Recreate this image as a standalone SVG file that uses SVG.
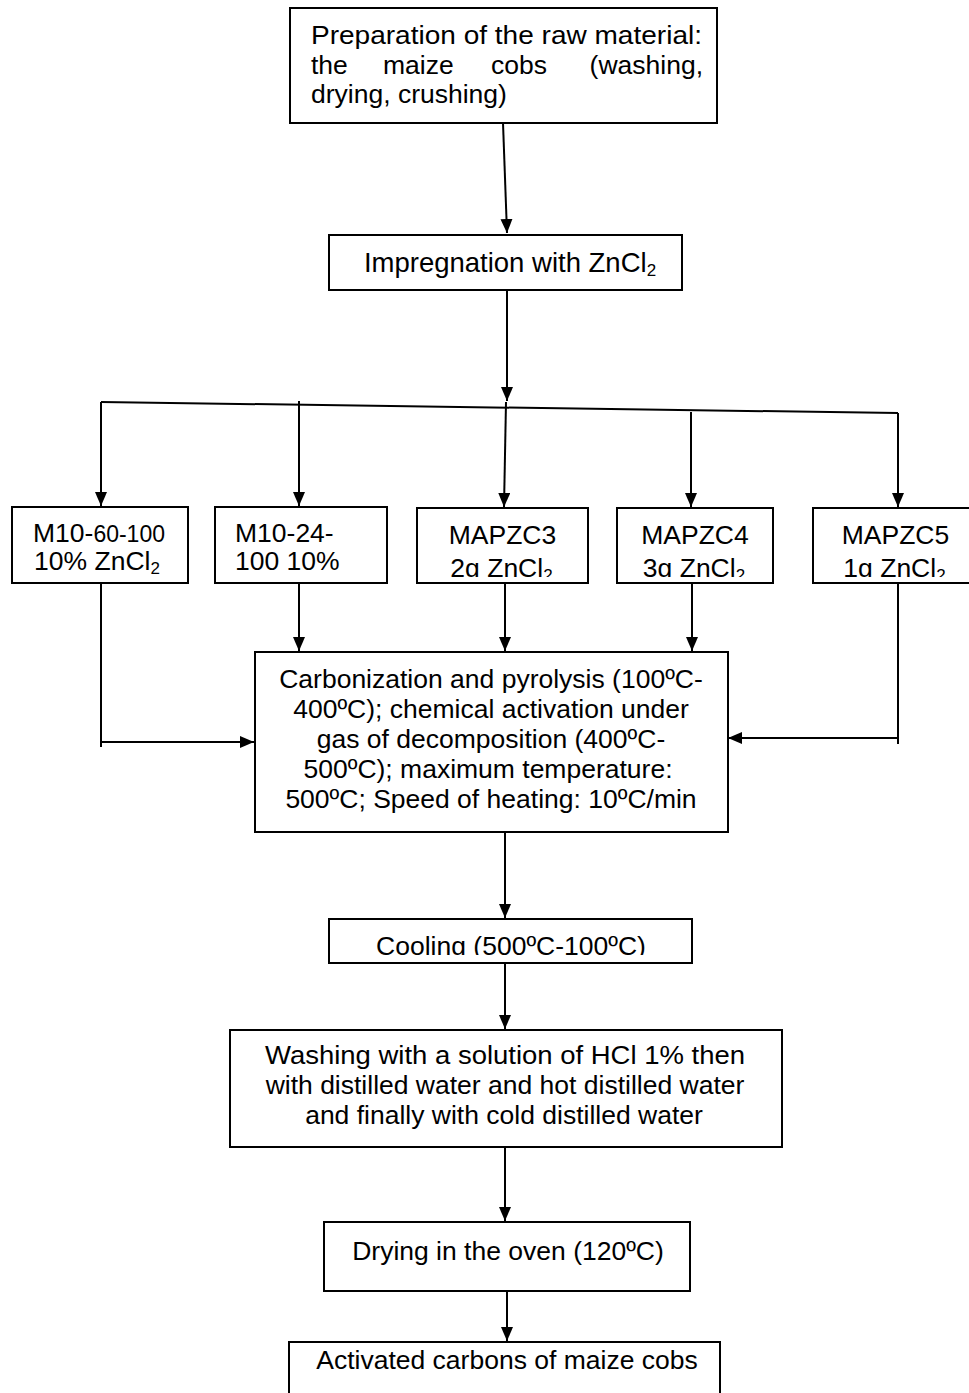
<svg xmlns="http://www.w3.org/2000/svg" width="969" height="1393" viewBox="0 0 969 1393">
<style>
.box{fill:#fff;stroke:#000;stroke-width:2}
.t{font-family:"Liberation Sans",Arial,sans-serif;font-size:26.5px;fill:#000}
.m{text-anchor:middle}
.c{fill:none;stroke:#000;stroke-width:2}
</style>
<defs>
<marker id="ah" markerUnits="userSpaceOnUse" markerWidth="14" markerHeight="12" refX="14" refY="6" orient="auto">
<path d="M0,0 L14,6 L0,12 z" fill="#000"/>
</marker>
<clipPath id="cr"><rect x="0" y="500" width="969" height="77"/></clipPath>
<clipPath id="cc"><rect x="0" y="900" width="969" height="55"/></clipPath>
</defs>
<rect width="969" height="1393" fill="#fff"/>

<g id="connectors">
<path class="c" d="M503,123 L507,233" marker-end="url(#ah)"/>
<path class="c" d="M507,291 L507,401" marker-end="url(#ah)"/>
<path class="c" d="M101,402 L898,413"/>
<path class="c" d="M101,402 L101,506" marker-end="url(#ah)"/>
<path class="c" d="M299,401 L299,506" marker-end="url(#ah)"/>
<path class="c" d="M506,402 L504,507" marker-end="url(#ah)"/>
<path class="c" d="M691,412 L691,507" marker-end="url(#ah)"/>
<path class="c" d="M898,413 L898,507" marker-end="url(#ah)"/>
<path class="c" d="M101,583 L101,747"/>
<path class="c" d="M101,742 L254,742" marker-end="url(#ah)"/>
<path class="c" d="M299,583 L299,651" marker-end="url(#ah)"/>
<path class="c" d="M505,583 L505,651" marker-end="url(#ah)"/>
<path class="c" d="M692,583 L692,651" marker-end="url(#ah)"/>
<path class="c" d="M898,583 L898,744"/>
<path class="c" d="M898,738 L728,738" marker-end="url(#ah)"/>
<path class="c" d="M505,832 L505,918" marker-end="url(#ah)"/>
<path class="c" d="M505,963 L505,1029" marker-end="url(#ah)"/>
<path class="c" d="M505,1147 L505,1221" marker-end="url(#ah)"/>
<path class="c" d="M507,1291 L507,1341" marker-end="url(#ah)"/>
</g>

<g id="prep">
<rect class="box" x="290" y="8" width="427" height="115"/>
<text class="t" x="311" y="44" textLength="391" lengthAdjust="spacingAndGlyphs">Preparation of the raw material:</text>
<text class="t" x="311" y="74">the</text>
<text class="t" x="383" y="74">maize</text>
<text class="t" x="491" y="74">cobs</text>
<text class="t" x="703" y="74" text-anchor="end">(washing,</text>
<text class="t" x="311" y="103">drying, crushing)</text>
</g>

<g id="impregnation">
<rect class="box" x="329" y="235" width="353" height="55"/>
<text class="t m" x="510" y="272" style="font-size:27.5px">Impregnation with ZnCl<tspan style="font-size:17px" dy="4">2</tspan></text>
</g>

<g id="m10-60-100">
<rect class="box" x="12" y="507" width="176" height="76"/>
<text class="t m" x="99" y="542">M10-<tspan style="font-size:23px">60-100</tspan></text>
<text class="t m" x="97" y="570">10% ZnCl<tspan style="font-size:17px" dy="4">2</tspan></text>
</g>

<g id="m10-24-100">
<rect class="box" x="215" y="507" width="172" height="76"/>
<text class="t" x="235" y="542">M10-24-</text>
<text class="t" x="235" y="570">100 10%</text>
</g>

<g id="mapzc3">
<rect class="box" x="417" y="508" width="171" height="75"/>
<text class="t m" x="502.5" y="544">MAPZC3</text>
<text class="t m" x="501.5" y="577" clip-path="url(#cr)">2g ZnCl<tspan style="font-size:17px" dy="4">2</tspan></text>
</g>

<g id="mapzc4">
<rect class="box" x="617" y="508" width="156" height="75"/>
<text class="t m" x="695" y="544">MAPZC4</text>
<text class="t m" x="694" y="577" clip-path="url(#cr)">3g ZnCl<tspan style="font-size:17px" dy="4">2</tspan></text>
</g>

<g id="mapzc5">
<rect class="box" x="813" y="508" width="170" height="75"/>
<text class="t m" x="895.5" y="544">MAPZC5</text>
<text class="t m" x="894.5" y="577" clip-path="url(#cr)">1g ZnCl<tspan style="font-size:17px" dy="4">2</tspan></text>
</g>

<g id="carbonization">
<rect class="box" x="255" y="652" width="473" height="180"/>
<text class="t m" x="491" y="688">Carbonization and pyrolysis (100ºC-</text>
<text class="t m" x="491" y="718">400ºC); chemical activation under</text>
<text class="t m" x="491" y="748">gas of decomposition (400ºC-</text>
<text class="t m" x="488" y="778">500ºC); maximum temperature:</text>
<text class="t m" x="491" y="808">500ºC; Speed of heating: 10ºC/min</text>
</g>

<g id="cooling">
<rect class="box" x="329" y="919" width="363" height="44"/>
<text class="t m" x="511" y="955" clip-path="url(#cc)">Cooling (500ºC-100ºC)</text>
</g>

<g id="washing">
<rect class="box" x="230" y="1030" width="552" height="117"/>
<text class="t" x="265" y="1064" textLength="480" lengthAdjust="spacingAndGlyphs">Washing with a solution of HCl 1% then</text>
<text class="t m" x="505" y="1094">with distilled water and hot distilled water</text>
<text class="t m" x="504" y="1124">and finally with cold distilled water</text>
</g>

<g id="drying">
<rect class="box" x="324" y="1222" width="366" height="69"/>
<text class="t m" x="508" y="1260">Drying in the oven (120ºC)</text>
</g>

<g id="final">
<rect class="box" x="289" y="1342" width="431" height="70"/>
<text class="t m" x="507" y="1369">Activated carbons of maize cobs</text>
</g>
</svg>
